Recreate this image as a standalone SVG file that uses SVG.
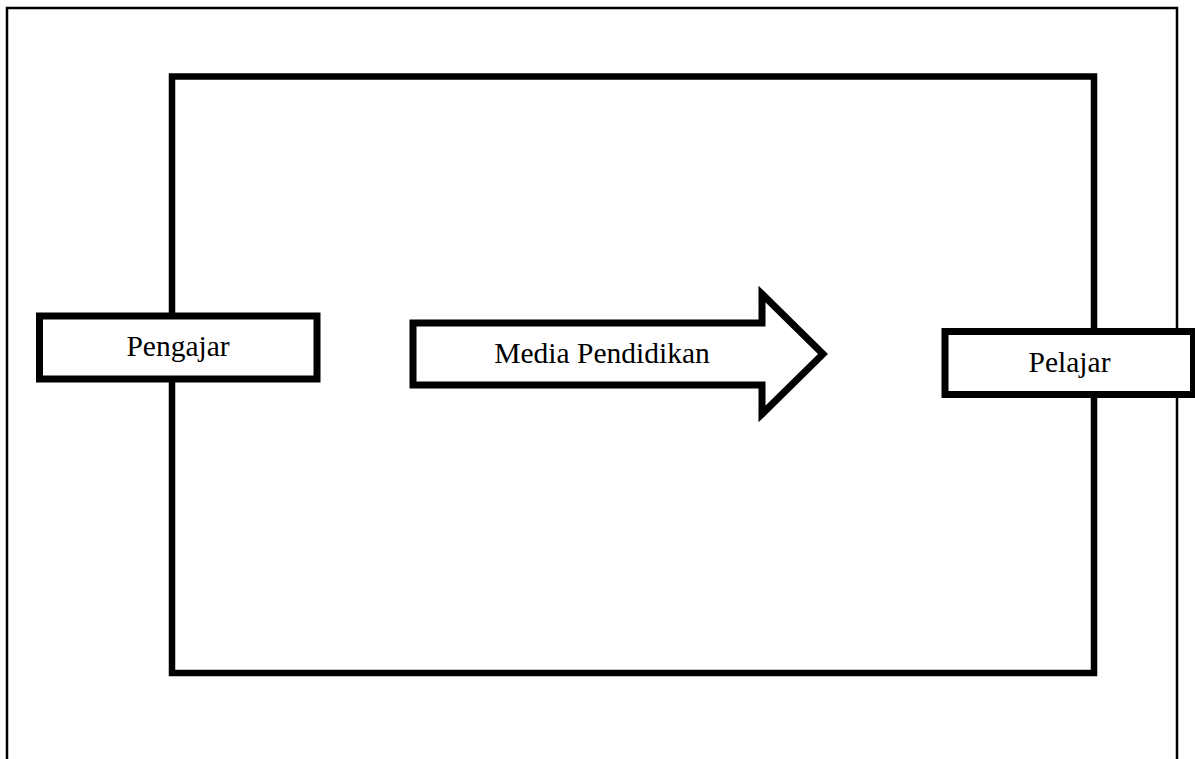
<svg xmlns="http://www.w3.org/2000/svg" width="1195" height="759" viewBox="0 0 1195 759">
<style>
.frame{fill:none;stroke:#000;stroke-width:2.5}
.thick{fill:none;stroke:#000;stroke-width:6.5}
.box{fill:#fff;stroke:#000;stroke-width:7}
.lbl{font-family:"Liberation Serif","Times New Roman",serif;font-size:29.5px;fill:#000;text-anchor:middle}
</style>
<rect width="1195" height="759" fill="#fff"/>
<path class="frame" d="M7,760 V8 H1177 V760"/>
<g id="container">
<rect class="thick" x="172" y="76.5" width="922" height="596.5"/>
</g>
<g id="connectors">
<g id="arrow-media">
<path class="box" stroke-linejoin="miter" stroke-miterlimit="10" d="M413,323 L762,323 L762,294 L823,354 L762,414 L762,385 L413,385 Z"/>
<text class="lbl" x="602" y="363" font-size="30">Media Pendidikan</text>
</g>
</g>
<g id="pengajar">
<rect class="box" x="39.5" y="316" width="277.5" height="63"/>
<text class="lbl" x="178" y="356">Pengajar</text>
</g>
<g id="pelajar">
<rect class="box" x="945" y="331.5" width="248.5" height="63"/>
<text class="lbl" x="1069.5" y="371.5">Pelajar</text>
</g>
</svg>
